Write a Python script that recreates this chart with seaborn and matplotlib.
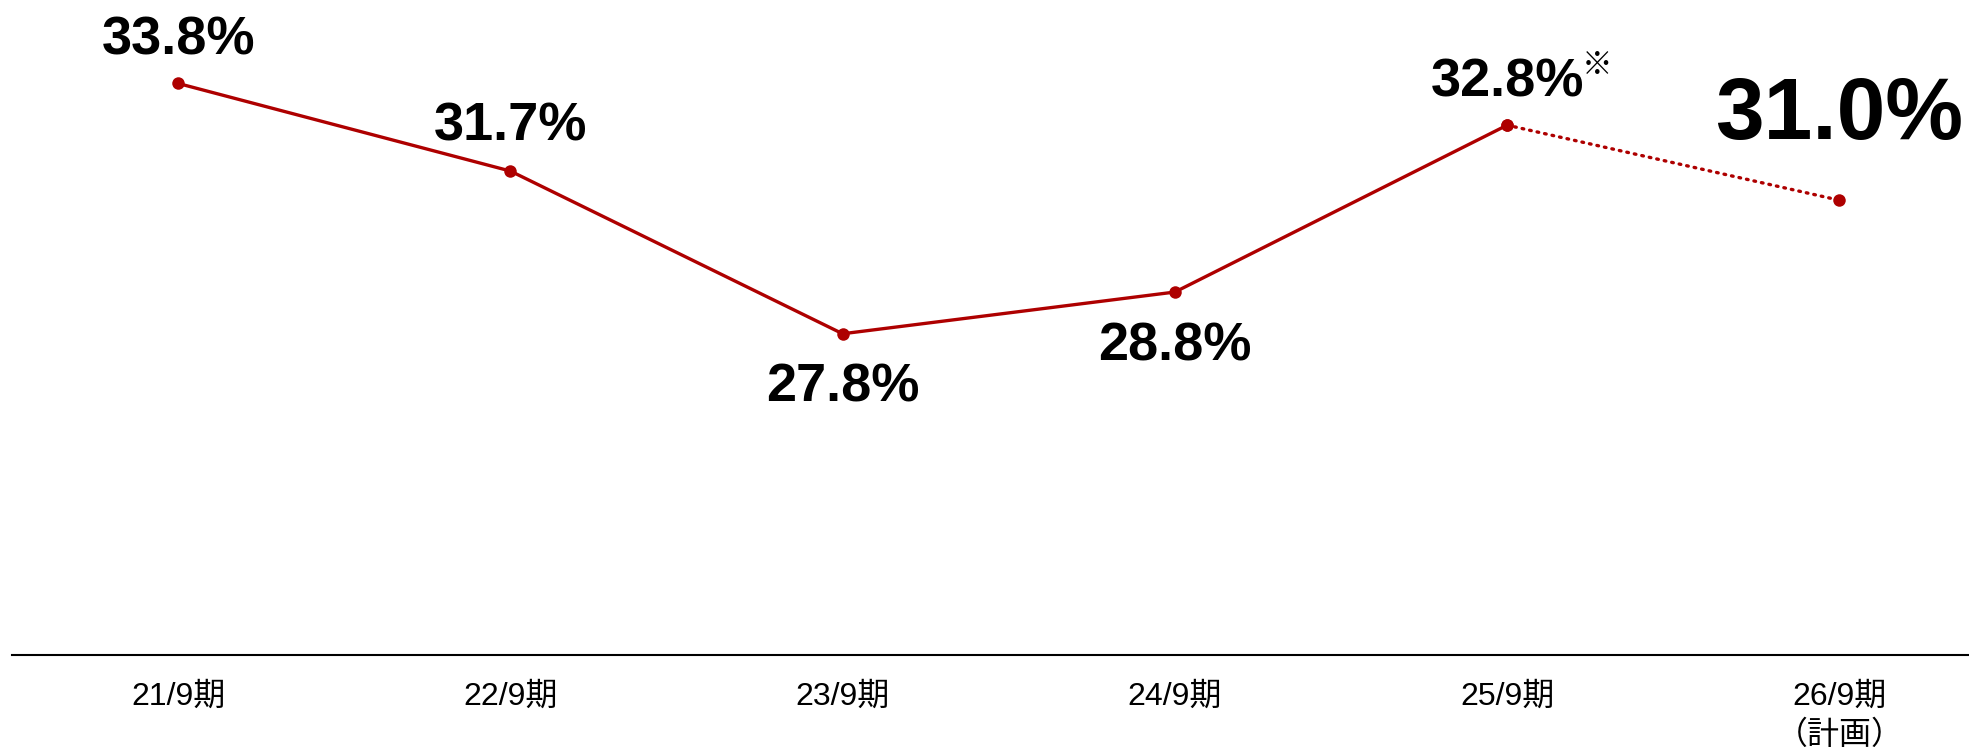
import matplotlib
matplotlib.use("Agg")
import matplotlib.pyplot as plt
import seaborn as sns
import pandas as pd

# Fiscal periods and ratio values (%)
periods = ["21/9期", "22/9期", "23/9期", "24/9期", "25/9期", "26/9期\n（計画）"]
values = [33.8, 31.7, 27.8, 28.8, 32.8, 31.0]
value_labels = ["33.8%", "31.7%", "27.8%", "28.8%", "32.8%", "31.0%"]
n_actual = 5  # first five are results, last one is the plan

sns.set_theme(style="white")
plt.rcParams["font.family"] = ["Liberation Sans", "Noto Sans CJK JP", "DejaVu Sans"]

RED = "#AE0000"
df = pd.DataFrame({"x": range(len(values)), "v": values})

fig = plt.figure(figsize=(19.69, 7.52), dpi=100)
ax = fig.add_axes([12 / 1969, 1 - 655 / 752, 1 - 12 / 1969, 655 / 752])

# Results: solid line
sns.lineplot(data=df.iloc[:n_actual], x="x", y="v", ax=ax, color=RED,
             linewidth=2.4, marker="o", markersize=9, markeredgewidth=0)
# Plan: dotted line from the last result to the plan point
sns.lineplot(data=df.iloc[n_actual - 1:], x="x", y="v", ax=ax, color=RED,
             linewidth=2.4, marker="o", markersize=9, markeredgewidth=0)
plan_line = ax.lines[-1]
plan_line.set_dashes((0.5, 1.8))
plan_line.set_dash_capstyle("round")

ax.set_xlim(-0.5, 5.39)
ax.set_ylim(20.1, 35.8)

# Value labels (offsets in points)
offsets = [31, 32, -39, -39, 31, 60]
sizes = [39, 39, 39, 39, 39, 63]
for i, (v, lab) in enumerate(zip(values, value_labels)):
    ax.annotate(lab, xy=(i, v), xytext=(0, offsets[i]), textcoords="offset points",
                ha="center", va="center", fontsize=sizes[i], fontweight="bold",
                color="black")

# Footnote mark on the latest result
ax.annotate("※", xy=(4, values[4]), xytext=(65, 43), textcoords="offset points",
            ha="center", va="center", fontsize=22, fontweight="bold", color="black",
            family=["Noto Sans CJK JP", "DejaVu Sans"])

ax.set_xticks(range(len(periods)))
ax.set_xticklabels(periods, fontsize=23, linespacing=1.4, color="black")
ax.tick_params(axis="x", length=0, pad=19)
ax.set_yticks([])
ax.set_xlabel("")
ax.set_ylabel("")

for side in ["top", "left", "right"]:
    ax.spines[side].set_visible(False)
ax.spines["bottom"].set_color("black")
ax.spines["bottom"].set_linewidth(1.5)

fig.savefig("out.png", dpi=100)
